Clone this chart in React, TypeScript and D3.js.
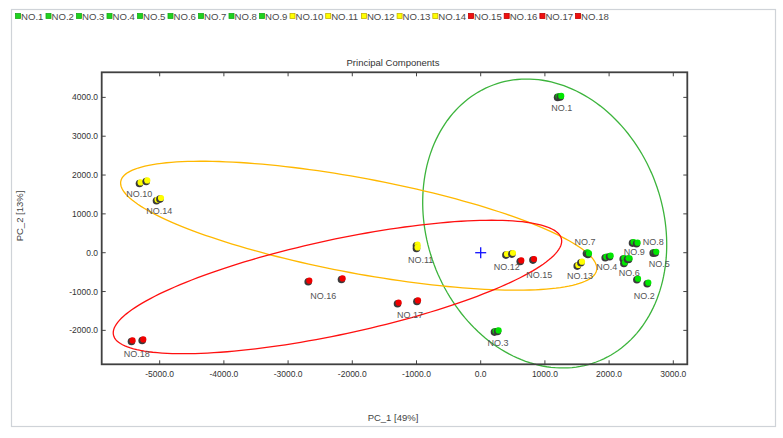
import React from "react";
import * as d3 from "d3";

const sampleNames = ["NO.1","NO.2","NO.3","NO.4","NO.5","NO.6","NO.7","NO.8","NO.9","NO.10","NO.11","NO.12","NO.13","NO.14","NO.15","NO.16","NO.17","NO.18"];
const sampleGroup = ["g","g","g","g","g","g","g","g","g","y","y","y","y","y","r","r","r","r"];

// two replicates per sample
const pc1A = [1210, 2445, 227, 1952, 2699, 2232, 1660, 2315, 2377, -5302, -988, 405, 1516, -5037, 628, -2674, -1283, -5427];
const pc2A = [4020, -677, -2024, -111, 10, -144, 0, -155, 268, 1803, 198, -41, -324, 1357, -206, -729, -1295, -2266];
const pc1B = [1250, 2606, 274, 2019, 2730, 2243, 1682, 2300, 2439, -5198, -988, 498, 1573, -4984, 826, -2156, -981, -5260];
const pc2B = [4030, -780, -2009, -85, 15, -258, -26, -150, 250, 1854, 129, -15, -240, 1401, -170, -670, -1236, -2240];

// label anchors (data units)
const labelPc1 = [1262, 2548, 269, 1963, 2782, 2315, 1625, 2688, 2393, -5318, -935, 405, 1547, -5006, 913, -2452, -1101, -5358];
const labelPc2 = [3719, -1107, -2318, -376, -291, -515, 283, 283, 18, 1512, -188, -376, -600, 1074, -567, -1115, -1604, -2609];

// confidence ellipses (center and semi-axis vectors, data units)
const ellipseGroups = ["g", "y", "r"];
const ellipseCX = [997, -1900, -2231];
const ellipseCY = [752, 695, -883];
const ellipseMajorX = [-802, 3706, 3489];
const ellipseMajorY = [3567, -1143, 1236];
const ellipseMinorX = [1723, -136, 155];
const ellipseMinorY = [1058, -1205, -1194];

const xTicks = [-5000, -4000, -3000, -2000, -1000, 0, 1000, 2000, 3000];
const yTicks = [-2000, -1000, 0, 1000, 2000, 3000, 4000];
const xDomain = [-5903, 3218];
const yDomain = [-2874, 4646];

const pointFill: Record<string, string> = { g: "#00e600", y: "#ffff00", r: "#f00000" };
const legendFill: Record<string, string> = { g: "#1ed21e", y: "#ffff00", r: "#ee1010" };
const legendStroke: Record<string, string> = { g: "#1aa81a", y: "#c8b400", r: "#c00000" };
const ellipseColor: Record<string, string> = { g: "#3cb43c", y: "#ffb800", r: "#ff1010" };

export default function App() {
  const W = 783, H = 438;
  const plot = { l: 101.7, r: 687.3, t: 72.3, b: 364.3 };
  const x = d3.scaleLinear().domain(xDomain).range([plot.l, plot.r]);
  const y = d3.scaleLinear().domain(yDomain).range([plot.b, plot.t]);

  const ellipsePath = (i: number) => {
    const ts = d3.range(0, 181).map((k) => (k / 180) * Math.PI * 2);
    const line = d3.line<number>()
      .x((t) => x(ellipseCX[i] + ellipseMajorX[i] * Math.cos(t) + ellipseMinorX[i] * Math.sin(t)))
      .y((t) => y(ellipseCY[i] + ellipseMajorY[i] * Math.cos(t) + ellipseMinorY[i] * Math.sin(t)))
      .curve(d3.curveLinearClosed);
    return line(ts) || "";
  };

  // legend layout
  let lx = 15;
  const legendItems = sampleNames.map((n, i) => {
    const item = { n, g: sampleGroup[i], x: lx };
    lx += n.length > 4 ? 35.7 : 30.5;
    return item;
  });

  const tickFont = "'Liberation Sans Narrow', 'Arial Narrow', 'Liberation Sans', Arial, sans-serif";
  const font = "'Liberation Sans', Arial, sans-serif";

  const points: { x: number; y: number; g: string }[] = [];
  sampleNames.forEach((_, i) => {
    points.push({ x: pc1A[i], y: pc2A[i], g: sampleGroup[i] });
    points.push({ x: pc1B[i], y: pc2B[i], g: sampleGroup[i] });
  });

  return (
    <svg width={W} height={H} style={{ position: "absolute", left: 0, top: 0 }}>
      <rect x={0} y={0} width={W} height={H} fill="#ffffff" />
      <rect x={11.5} y={9.5} width={764} height={417} fill="none" stroke="#cfd3d8" strokeWidth={1.2} />

      {/* legend */}
      {legendItems.map((it) => (
        <g key={it.n}>
          <rect x={it.x + 0.5} y={13.5} width={5} height={5} fill={legendFill[it.g]} stroke={legendStroke[it.g]} strokeWidth={0.8} />
          <text x={it.x + 6} y={19.5} fontFamily={font} fontSize={9.6} fill="#4a4a4a">{it.n}</text>
        </g>
      ))}

      {/* title */}
      <text x={393} y={66} textAnchor="middle" fontFamily={font} fontSize={9.5} fill="#333">Principal Components</text>

      {/* ellipses */}
      {ellipseGroups.map((g, i) => (
        <path key={g} d={ellipsePath(i)} fill="none" stroke={ellipseColor[g]} strokeWidth={1.3} />
      ))}

      {/* origin cross */}
      <g stroke="#1010ff" strokeWidth={1.3}>
        <line x1={x(0) - 5.5} x2={x(0) + 5.5} y1={y(0)} y2={y(0)} />
        <line x1={x(0)} x2={x(0)} y1={y(0) - 5.5} y2={y(0) + 5.5} />
      </g>

      {/* points */}
      {points.map((p, i) => (
        <g key={i}>
          <circle cx={x(p.x) - 0.8} cy={y(p.y) + 0.8} r={3.8} fill="#3a3a3a" />
          <circle cx={x(p.x) + 0.3} cy={y(p.y) - 0.3} r={3.1} fill={pointFill[p.g]} />
        </g>
      ))}

      {/* point labels */}
      {sampleNames.map((n, i) => (
        <text key={n} x={x(labelPc1[i])} y={y(labelPc2[i])} dy="0.35em" textAnchor="middle" fontFamily={font} fontSize={9} fill="#555">{n}</text>
      ))}

      {/* ticks (inside, all four sides) */}
      <g stroke="#444" strokeWidth={1}>
        {xTicks.map((t) => (
          <g key={t}>
            <line x1={x(t)} x2={x(t)} y1={plot.b} y2={plot.b - 4} />
            <line x1={x(t)} x2={x(t)} y1={plot.t} y2={plot.t + 4} />
          </g>
        ))}
        {yTicks.map((t) => (
          <g key={t}>
            <line x1={plot.l} x2={plot.l + 4} y1={y(t)} y2={y(t)} />
            <line x1={plot.r} x2={plot.r - 4} y1={y(t)} y2={y(t)} />
          </g>
        ))}
      </g>

      {/* frame */}
      <rect x={plot.l} y={plot.t} width={plot.r - plot.l} height={plot.b - plot.t} fill="none" stroke="#404040" strokeWidth={1.8} />

      {/* tick labels */}
      {xTicks.map((t) => (
        <text key={t} x={x(t)} y={377} textAnchor="middle" fontFamily={tickFont} fontSize={8.5} fill="#333">{t.toFixed(1)}</text>
      ))}
      {yTicks.map((t) => (
        <text key={t} x={98} y={y(t)} dy="0.35em" textAnchor="end" fontFamily={tickFont} fontSize={8.5} fill="#333">{t.toFixed(1)}</text>
      ))}

      {/* axis titles */}
      <text x={393} y={421} textAnchor="middle" fontFamily={font} fontSize={9.5} fill="#444">PC_1 [49%]</text>
      <text transform={`translate(23,${216}) rotate(-90)`} textAnchor="middle" fontFamily={font} fontSize={9.5} fill="#444">PC_2 [13%]</text>
    </svg>
  );
}
